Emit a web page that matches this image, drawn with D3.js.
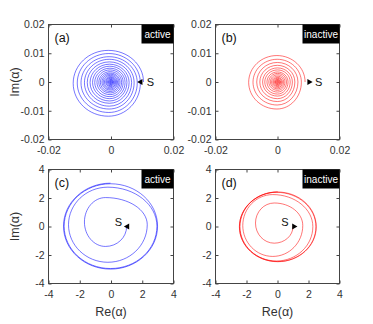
<!DOCTYPE html>
<html>
<head>
<meta charset="utf-8">
<script src="https://cdn.jsdelivr.net/npm/d3@7"></script>
<style>
  body { margin: 0; background: #fff; }
  svg { display: block; font-family: "Liberation Sans", Arial, sans-serif; }
</style>
</head>
<body>
<svg></svg>
<script>
const size = {w: 373, h: 324};
const svg = d3.select('svg').attr('width', size.w).attr('height', size.h);

// ---- data: where each loop of the trajectory crosses the axes ----
// (a) active, small amplitude - blue, decays into the origin
const aRight  = [0.0104, 0.0094, 0.0084, 0.0074, 0.0066, 0.0058, 0.0051, 0.0045, 0.0039, 0.0034, 0.0029, 0.0025, 0.0021, 0.0018, 0.0015, 0.0012, 0.0009, 0.0007, 0.0005, 0.0003, 0.0001];
const aTop    = [0.0110, 0.0099, 0.0088, 0.0079, 0.0070, 0.0062, 0.0055, 0.0048, 0.0042, 0.0036, 0.0031, 0.0027, 0.0023, 0.0019, 0.0016, 0.0013, 0.0010, 0.0008, 0.0006, 0.0004, 0.0002];
const aLeft   = [-0.0121, -0.0108, -0.0096, -0.0085, -0.0076, -0.0067, -0.0059, -0.0052, -0.0045, -0.0039, -0.0034, -0.0029, -0.0025, -0.0021, -0.0017, -0.0014, -0.0011, -0.0008, -0.0006, -0.0004, -0.0002];
const aBottom = [-0.0119, -0.0106, -0.0094, -0.0084, -0.0074, -0.0066, -0.0058, -0.0051, -0.0044, -0.0038, -0.0033, -0.0028, -0.0024, -0.0020, -0.0016, -0.0013, -0.0010, -0.0008, -0.0006, -0.0004, -0.0002];

// (b) inactive, small amplitude - red
const bRight  = [0.0089, 0.0077, 0.0066, 0.0056, 0.0048, 0.0041, 0.0034, 0.0029, 0.0024, 0.0020, 0.0016, 0.0013, 0.0010, 0.0008, 0.0006, 0.0004, 0.0002];
const bTop    = [0.0092, 0.0079, 0.0068, 0.0058, 0.0049, 0.0042, 0.0035, 0.0030, 0.0025, 0.0020, 0.0016, 0.0013, 0.0010, 0.0008, 0.0006, 0.0004, 0.0002];
const bLeft   = [-0.0093, -0.0079, -0.0067, -0.0057, -0.0048, -0.0041, -0.0034, -0.0028, -0.0023, -0.0019, -0.0015, -0.0012, -0.0009, -0.0007, -0.0005, -0.0003, -0.0001];
const bBottom = [-0.0094, -0.0080, -0.0068, -0.0058, -0.0049, -0.0042, -0.0035, -0.0029, -0.0024, -0.0020, -0.0016, -0.0013, -0.0010, -0.0008, -0.0006, -0.0004, -0.0002];

// (c) active, large amplitude - blue, grows out to a limit cycle
const cRight  = [1.00, 2.32, 2.94, 2.98];
const cBottom = [-1.40, -2.51, -2.95, -2.99];
const cLeft   = [-1.70, -2.72, -3.00, -3.04];
const cTop    = [2.03, 2.76, 3.00, 3.04];

// (d) inactive, large amplitude - red
const dRight  = [1.00, 1.63, 2.28, 2.48, 2.50];
const dBottom = [-1.17, -2.10, -2.42, -2.46, -2.47];
const dLeft   = [-1.42, -2.24, -2.42, -2.45, -2.46];
const dTop    = [1.65, 2.24, 2.40, 2.42, 2.43];

// starting points "S"
const sA = [0.0095, 0];
const sB = [0.0102, 0];
const sC = [1.05, 0];
const sD = [1.06, 0];

// ticks
const smallTicks = [-0.02, 0, 0.02];
const smallTickLabels = ['-0.02', '0', '0.02'];
const smallYTicks = [-0.02, -0.01, 0, 0.01, 0.02];
const smallYTickLabels = ['-0.02', '-0.01', '0', '0.01', '0.02'];
const bigTicks = [-4, -2, 0, 2, 4];
const bigTickLabels = ['-4', '-2', '0', '2', '4'];

const panels = [
  {id: '(a)', tag: 'active',   color: '#0000ff', dir: 'ccw', dom: 0.02, R: aRight, T: aTop, L: aLeft, B: aBottom,
   s: sA, mark: 'left', sPos: 'right', xr: [48.5, 173.5], yr: [139.5, 24.5],
   xt: smallTicks, xl: smallTickLabels, yt: smallYTicks, yl: smallYTickLabels, ylab: true, xlab: false},
  {id: '(b)', tag: 'inactive', color: '#ff0000', dir: 'ccw', dom: 0.02, R: bRight, T: bTop, L: bLeft, B: bBottom,
   s: sB, mark: 'right', sPos: 'right', xr: [215.5, 339.5], yr: [139.5, 24.5],
   xt: smallTicks, xl: smallTickLabels, yt: smallYTicks, yl: smallYTickLabels, ylab: false, xlab: false},
  {id: '(c)', tag: 'active',   color: '#0000ff', dir: 'cw', dom: 4, R: cRight, T: cTop, L: cLeft, B: cBottom,
   s: sC, mark: 'left', sPos: 'left', xr: [48.5, 173.5], yr: [283.5, 169.5],
   xt: bigTicks, xl: bigTickLabels, yt: bigTicks, yl: bigTickLabels, ylab: true, xlab: true},
  {id: '(d)', tag: 'inactive', color: '#ff0000', dir: 'cw', dom: 4, R: dRight, T: dTop, L: dLeft, B: dBottom,
   s: sD, mark: 'right', sPos: 'left', xr: [215.5, 339.5], yr: [283.5, 169.5],
   xt: bigTicks, xl: bigTickLabels, yt: bigTicks, yl: bigTickLabels, ylab: false, xlab: true}
];

const axisColor = '#444';
const textColor = '#333';
const kappa = 0.5523; // bezier handle for a quarter ellipse

panels.forEach(function(p) {
  const x = d3.scaleLinear().domain([-p.dom, p.dom]).range(p.xr);
  const y = d3.scaleLinear().domain([-p.dom, p.dom]).range(p.yr);
  const g = svg.append('g');

  // trajectory: axis crossings of each loop, in turning order.
  // side = crossing of the horizontal line (tangent vertical there)
  let pts = [];
  p.R.forEach(function(r, i) {
    const cx = (r + p.L[i]) / 2;
    const cy = (p.T[i] + p.B[i]) / 2;
    const right = {v: i === 0 ? [r, 0] : [r, cy], side: true};
    const top = {v: [cx, p.T[i]], side: false};
    const left = {v: [p.L[i], cy], side: true};
    const bot = {v: [cx, p.B[i]], side: false};
    if (p.dir === 'ccw') pts.push(right, top, left, bot);
    else pts.push(right, bot, left, top);
  });

  // join the crossings with quarter-ellipse pieces
  const path = d3.path();
  pts.forEach(function(q, i) {
    const qx = x(q.v[0]), qy = y(q.v[1]);
    if (i === 0) { path.moveTo(qx, qy); return; }
    const o = pts[i - 1];
    const ox = x(o.v[0]), oy = y(o.v[1]);
    if (o.side) {
      path.bezierCurveTo(ox, oy + kappa * (qy - oy), qx + kappa * (ox - qx), qy, qx, qy);
    } else {
      path.bezierCurveTo(ox + kappa * (qx - ox), oy, qx, qy + kappa * (oy - qy), qx, qy);
    }
  });

  g.append('path')
    .attr('d', path.toString())
    .attr('fill', 'none')
    .attr('stroke', p.color)
    .attr('stroke-width', 0.6)
    .attr('stroke-opacity', 0.9);

  // axes, ticks pointing inward on all four sides
  const bottom = d3.axisBottom(x).tickValues(p.xt).tickFormat((d, i) => p.xl[i])
    .tickSizeInner(-3).tickSizeOuter(0).tickPadding(7);
  const topAx = d3.axisTop(x).tickValues(p.xt).tickFormat('').tickSizeInner(-3).tickSizeOuter(0);
  const leftAx = d3.axisLeft(y).tickValues(p.yt).tickFormat((d, i) => p.yl[i])
    .tickSizeInner(-3).tickSizeOuter(0).tickPadding(4);
  const rightAx = d3.axisRight(y).tickValues(p.yt).tickFormat('').tickSizeInner(-3).tickSizeOuter(0);

  [[bottom, `translate(0,${p.yr[0]})`], [topAx, `translate(0,${p.yr[1]})`],
   [leftAx, `translate(${p.xr[0]},0)`], [rightAx, `translate(${p.xr[1]},0)`]].forEach(function(a) {
    const ag = g.append('g').attr('transform', a[1]).call(a[0]);
    ag.select('.domain').remove();
    ag.selectAll('line').attr('stroke', axisColor);
    ag.selectAll('text').attr('fill', textColor).style('font-size', '10.5px')
      .style('font-family', '"Liberation Sans", Arial, sans-serif');
  });

  // box
  g.append('rect')
    .attr('x', p.xr[0]).attr('y', p.yr[1])
    .attr('width', p.xr[1] - p.xr[0]).attr('height', p.yr[0] - p.yr[1])
    .attr('fill', 'none').attr('stroke', axisColor).attr('stroke-width', 1);

  // panel label
  g.append('text')
    .attr('x', p.xr[0] + 6).attr('y', p.yr[1] + 17)
    .attr('fill', '#111').style('font-size', '12.5px')
    .text(p.id);

  // active / inactive tag
  const tagW = p.tag === 'active' ? 32 : 37;
  g.append('rect')
    .attr('x', p.xr[1] - tagW).attr('y', p.yr[1])
    .attr('width', tagW).attr('height', 19)
    .attr('fill', '#000');
  g.append('text')
    .attr('x', p.xr[1] - tagW / 2).attr('y', p.yr[1] + 13)
    .attr('text-anchor', 'middle').attr('fill', '#fff')
    .style('font-size', '10px')
    .text(p.tag);

  // start marker S
  const sx = x(p.s[0]), sy = y(p.s[1]);
  g.append('path')
    .attr('d', d3.symbol(d3.symbolTriangle, 16)())
    .attr('transform', `translate(${sx},${sy}) rotate(${p.mark === 'left' ? -90 : 90})`)
    .attr('fill', '#000');
  g.append('text')
    .attr('x', p.sPos === 'right' ? sx + 6 : sx - 9)
    .attr('y', p.sPos === 'right' ? sy + 4 : sy - 1)
    .attr('text-anchor', p.sPos === 'right' ? 'start' : 'middle')
    .attr('fill', '#111').style('font-size', '11px')
    .text('S');

  // axis titles
  if (p.ylab) {
    g.append('text')
      .attr('transform', `translate(19,${(p.yr[0] + p.yr[1]) / 2}) rotate(-90)`)
      .attr('text-anchor', 'middle').attr('fill', textColor)
      .style('font-size', '12.5px')
      .text('Im(α)');
  }
  if (p.xlab) {
    g.append('text')
      .attr('x', (p.xr[0] + p.xr[1]) / 2).attr('y', 316)
      .attr('text-anchor', 'middle').attr('fill', textColor)
      .style('font-size', '12.5px')
      .text('Re(α)');
  }
});
</script>
</body>
</html>
